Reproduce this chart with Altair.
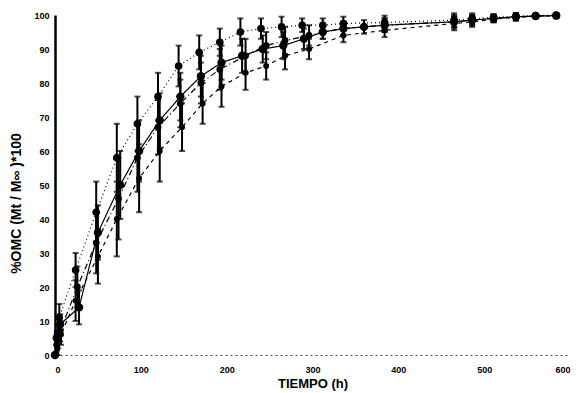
import altair as alt
import pandas as pd

# Series 1 (solid line, large markers)
t1 = [0, 2, 6, 28, 50, 76, 98, 122, 146, 170, 194, 218, 242, 266, 290, 312, 336, 360, 384, 465, 486, 511, 537, 560, 584]
v1 = [0, 5, 9, 14, 36, 50, 60, 69, 76, 82, 86, 88, 90, 91, 93, 95, 96, 96.5, 97, 98, 98.5, 99, 99.5, 99.7, 99.8]
e1 = [0, 2, 3, 5, 8, 10, 9, 8, 7, 6, 5, 5, 4, 4, 3, 2, 2, 2, 2, 2, 1.5, 1, 1, 0.5, 0.5]

# Series 2 (upper, dotted)
t2 = [0, 3, 5, 24, 48, 72, 96, 120, 144, 168, 192, 216, 240, 264, 288, 312, 336, 384, 465, 486, 511, 537, 560, 584]
v2 = [0, 6, 11, 25, 42, 58, 68, 76, 85, 89, 92, 95, 96, 96.5, 97, 97, 97.5, 97.8, 98.5, 99, 99.3, 99.6, 99.8, 100]
e2 = [0, 3, 4, 5, 9, 10, 8, 7, 6, 5, 4, 4, 3, 3, 2, 2, 2, 2, 2, 1.5, 1, 1, 0.5, 0.5]

# Series 3 (dash-dot)
t3 = [0, 2, 6, 26, 48, 74, 96, 120, 146, 170, 192, 222, 246, 268, 296, 312, 336, 384, 465, 486, 511, 537, 560, 584]
v3 = [0, 3, 7, 20, 33, 46, 58, 67, 74, 80, 84, 88, 91, 92.5, 94, 95, 96, 97, 98, 98.5, 99, 99.4, 99.7, 99.8]
e3 = [0, 2, 3, 6, 9, 12, 10, 8, 7, 6, 6, 5, 4, 4, 3, 2, 2, 2, 1.5, 1.5, 1, 1, 0.5, 0.5]

# Series 4 (lower, dashed)
t4 = [0, 3, 7, 24, 50, 72, 98, 122, 148, 172, 194, 222, 246, 268, 296, 336, 384, 465, 486, 511, 537, 560, 584]
v4 = [0, 2, 6, 16, 29, 40, 52, 60, 67, 74, 79, 83, 85, 88, 90, 94, 95.5, 97.5, 98, 98.8, 99.3, 99.6, 99.8]
e4 = [0, 2, 3, 6, 8, 11, 10, 9, 7, 6, 6, 5, 4, 4, 3, 2, 2, 2, 1.5, 1, 1, 0.5, 0.5]

series_names = ["S1", "S2", "S3", "S4"]
x_ticks = [0, 100, 200, 300, 400, 500, 600]
y_ticks = [0, 10, 20, 30, 40, 50, 60, 70, 80, 90, 100]

rows = []
for name, t, v, e in zip(series_names, [t1, t2, t3, t4], [v1, v2, v3, v4], [e1, e2, e3, e4]):
    for ti, vi, ei in zip(t, v, e):
        rows.append({"serie": name, "t": ti, "v": vi, "lo": max(vi - ei, 0), "hi": vi + ei})
df = pd.DataFrame(rows)

FONT = "Liberation Sans"

x_axis = alt.Axis(
    values=x_ticks, title="TIEMPO (h)", grid=False, ticks=False, tickSize=0,
    labelPadding=10, domainDash=[2, 3], domainColor="#444", domainWidth=1,
    labelOverlap=False,
    labelFont=FONT, labelFontWeight="bold", labelFontSize=9, labelColor="#000",
    titleFont=FONT, titleFontWeight="bold", titleFontSize=13, titleColor="#000",
    titlePadding=3,
)
y_axis = alt.Axis(
    values=y_ticks, title="%OMC  (Mt / M\u221e )*100", grid=False, ticks=False, tickSize=0,
    labelPadding=6, domainColor="#000", domainWidth=2.5,
    labelOverlap=False,
    labelFont=FONT, labelFontWeight="bold", labelFontSize=9, labelColor="#000",
    titleFont=FONT, titleFontWeight="bold", titleFontSize=14, titleColor="#000",
    titlePadding=10, titleY=188,
)
x_scale = alt.Scale(domain=[0, 600], nice=False, zero=False)
y_scale = alt.Scale(domain=[0, 100], nice=False)


def X(field):
    return alt.X(field, type="quantitative", scale=x_scale, axis=x_axis)


def Y(field):
    return alt.Y(field, type="quantitative", scale=y_scale, axis=y_axis)


dash_scale = alt.Scale(domain=series_names, range=[[1, 0], [1, 3], [6, 3, 1, 3], [4, 4]])
size_scale = alt.Scale(domain=series_names, range=[70, 35, 35, 35])

base = alt.Chart(df)

lines = base.mark_line(color="black", strokeWidth=1.2).encode(
    x=X("t"), y=Y("v"),
    strokeDash=alt.StrokeDash("serie:N", scale=dash_scale, legend=None),
    detail="serie:N",
)
bars = base.mark_rule(color="black", strokeWidth=2).encode(
    x=X("t"), y=Y("lo"), y2="hi:Q"
)
caps_hi = base.mark_tick(color="black", orient="horizontal", size=6, thickness=2).encode(
    x=X("t"), y=Y("hi")
)
caps_lo = base.mark_tick(color="black", orient="horizontal", size=6, thickness=2).encode(
    x=X("t"), y=Y("lo")
)
points = base.mark_circle(color="black", opacity=1).encode(
    x=X("t"), y=Y("v"),
    size=alt.Size("serie:N", scale=size_scale, legend=None),
)

chart = alt.layer(lines, bars, caps_hi, caps_lo, points).properties(
    width=515, height=340,
    autosize=alt.AutoSizeParams(type="none"),
    padding={"left": 47, "top": 7, "right": 8, "bottom": 36},
    background="white",
).configure_view(stroke=None)

chart.save("out.html", embed_options={"renderer": "svg", "actions": False})
